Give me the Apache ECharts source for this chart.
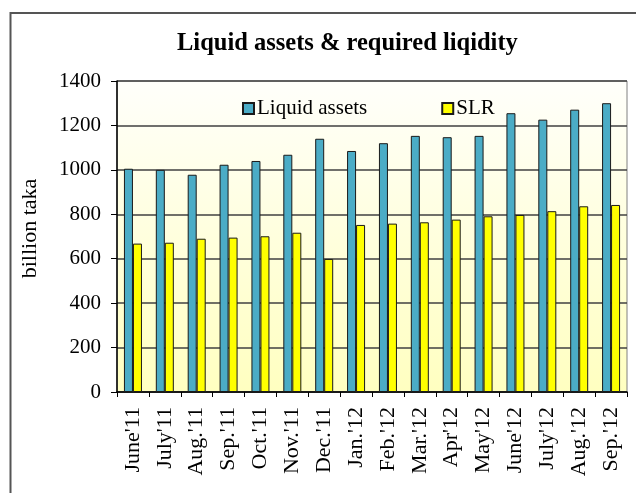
<!DOCTYPE html>
<html>
<head>
<meta charset="utf-8">
<script src="https://cdn.jsdelivr.net/npm/echarts@6/dist/echarts.min.js"></script>
<style>
  html, body { margin: 0; padding: 0; background: #fff; }
  #chart { width: 636px; height: 493px; }
</style>
</head>
<body>
<div id="chart"></div>
<script>
const months = ["June'11", "July'11", "Aug.'11", "Sep.'11", "Oct.'11", "Nov.'11", "Dec.'11", "Jan.'12",
  "Feb.'12", "Mar.'12", "Apr'12", "May'12", "June'12", "July'12", "Aug.'12", "Sep.'12"]
const liquidAssets = [1005, 1000, 978, 1023, 1040, 1068, 1140, 1085, 1120, 1153, 1147, 1153, 1255, 1226, 1271, 1300]
const slr = [668, 672, 690, 695, 701, 717, 599, 752, 758, 764, 776, 791, 797, 814, 836, 842]
const yTicks = [0, 200, 400, 600, 800, 1000, 1200, 1400]

const serif = '"Liberation Serif", "DejaVu Serif", serif'

const chart = echarts.init(document.getElementById('chart'))
chart.setOption({
  backgroundColor: '#FFFFFF',
  animation: false,
  title: {
    text: 'Liquid assets & required liqidity',
    left: 172,
    top: 26,
    textStyle: {
      fontFamily: serif,
      fontWeight: 'bold',
      fontSize: 24.5,
      color: '#000'
    }
  },
  graphic: [{
    type: 'rect',
    shape: { x: 10.5, y: 13, width: 640, height: 500 },
    style: { fill: 'none', stroke: '#555', lineWidth: 2 },
    z: 10
  }],
  legend: {
    top: 93,
    left: 237,
    itemWidth: 11,
    itemHeight: 11,
    itemGap: 74,
    icon: 'rect',
    textStyle: { fontFamily: serif, fontSize: 21, color: '#000', padding: [0, 0, 0, -2] },
    data: ['Liquid assets', 'SLR']
  },
  grid: {
    left: 117,
    right: 9,
    top: 81,
    bottom: 101,
    show: true,
    borderColor: '#808080',
    borderWidth: 1,
    backgroundColor: {
      type: 'linear', x: 0, y: 0, x2: 0, y2: 1,
      colorStops: [
        { offset: 0, color: '#FFFFFB' },
        { offset: 1, color: '#FFFFC0' }
      ]
    }
  },
  xAxis: {
    type: 'category',
    data: months,
    axisLine: { lineStyle: { color: '#000', width: 1.5 } },
    axisTick: { show: true, length: 5, lineStyle: { color: '#000' } },
    axisLabel: {
      rotate: 90,
      interval: 0,
      margin: 15,
      fontFamily: serif,
      fontSize: 22,
      color: '#000'
    }
  },
  yAxis: {
    type: 'value',
    min: yTicks[0],
    max: yTicks[yTicks.length - 1],
    interval: 200,
    name: 'billion taka',
    nameLocation: 'middle',
    nameGap: 76,
    nameTextStyle: { fontFamily: serif, fontSize: 22, color: '#000', padding: [0, 0, 0, 16] },
    axisLine: { show: true, lineStyle: { color: '#000', width: 1.5 } },
    axisTick: { show: true, length: 6, lineStyle: { color: '#000' } },
    axisLabel: {
      fontFamily: serif,
      fontSize: 21,
      color: '#000',
      margin: 16,
      formatter: (v) => String(v)
    },
    splitLine: { lineStyle: { color: '#404040', width: 1.5 } }
  },
  series: [
    {
      name: 'Liquid assets',
      type: 'bar',
      barWidth: 9,
      barGap: '0%',
      data: liquidAssets,
      itemStyle: { color: '#4BACC6', borderColor: '#1a1a1a', borderWidth: 1 }
    },
    {
      name: 'SLR',
      type: 'bar',
      barWidth: 9,
      barGap: '0%',
      data: slr,
      itemStyle: { color: '#FFFF00', borderColor: '#1a1a1a', borderWidth: 1 }
    }
  ]
})
</script>
</body>
</html>
